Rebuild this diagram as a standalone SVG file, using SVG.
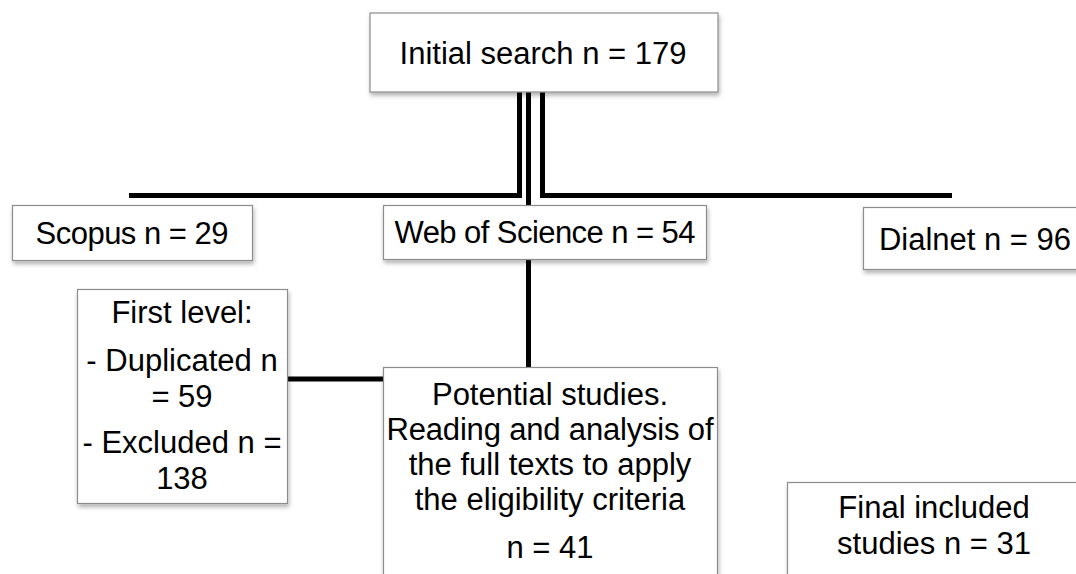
<svg xmlns="http://www.w3.org/2000/svg" width="1076" height="574" viewBox="0 0 1076 574">
<defs>
<filter id="sh" x="-10%" y="-20%" width="130%" height="160%">
<feDropShadow dx="1" dy="3" stdDeviation="2" flood-color="#000" flood-opacity="0.3"/>
</filter>
<style>
.box{fill:#fff;stroke:#8c8c8c;stroke-width:1.2;filter:url(#sh)}
.t{font-family:"Liberation Sans",Arial,sans-serif;font-size:31px;fill:#000;text-anchor:middle}
.c{fill:none;stroke:#000;stroke-width:5;stroke-linejoin:miter}
</style>
</defs>
<rect width="1076" height="574" fill="#fff"/>
<g id="connectors">
<path class="c" d="M519.5,92 V195.5 H129"/>
<path class="c" d="M528.5,92 V205"/>
<path class="c" d="M542.5,92 V195.5 H952"/>
<path class="c" d="M528.5,259 V367"/>
<path class="c" d="M287,379 H383"/>
</g>
<g id="initial">
<rect class="box" x="370" y="13" width="348" height="79"/>
<text class="t" x="543" y="64">Initial search n = 179</text>
</g>
<g id="scopus">
<rect class="box" x="12.5" y="205.5" width="240" height="55"/>
<text class="t" x="132" y="244" textLength="193">Scopus n = 29</text>
</g>
<g id="wos">
<rect class="box" x="383.5" y="205.5" width="323" height="54"/>
<text class="t" x="545" y="243" textLength="301">Web of Science n = 54</text>
</g>
<g id="dialnet">
<rect class="box" x="863.5" y="207.5" width="230" height="62"/>
<text class="t" x="975" y="250">Dialnet n = 96</text>
</g>
<g id="firstlevel">
<rect class="box" x="77.5" y="289.5" width="210" height="214"/>
<text class="t" x="182" y="323">First level:</text>
<text class="t" x="182" y="371">- Duplicated n</text>
<text class="t" x="182" y="407">= 59</text>
<text class="t" x="182" y="453">- Excluded n =</text>
<text class="t" x="182" y="489">138</text>
</g>
<g id="potential">
<rect class="box" x="383.5" y="367.5" width="334" height="220"/>
<text class="t" x="550" y="405">Potential studies.</text>
<text class="t" x="550" y="440" textLength="327">Reading and analysis of</text>
<text class="t" x="550" y="475">the full texts to apply</text>
<text class="t" x="550" y="510">the eligibility criteria</text>
<text class="t" x="550" y="558">n = 41</text>
</g>
<g id="final">
<rect class="box" x="787.5" y="482.5" width="300" height="110"/>
<text class="t" x="934" y="518">Final included</text>
<text class="t" x="934" y="554">studies n = 31</text>
</g>
</svg>
